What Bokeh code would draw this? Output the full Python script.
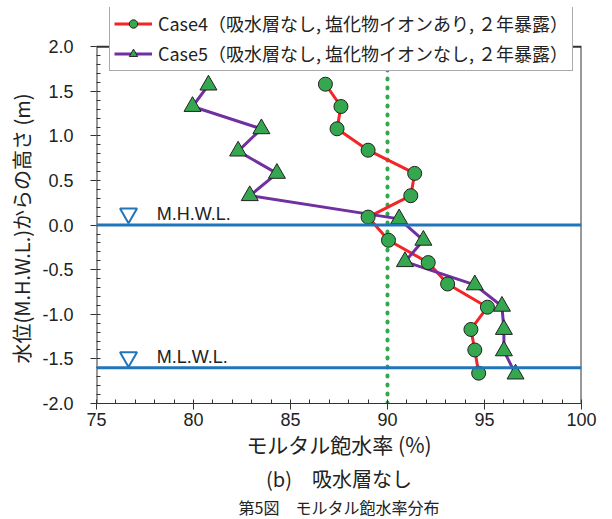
from bokeh.plotting import figure
from bokeh.models import (Span, Legend, LegendItem, FixedTicker, PrintfTickFormatter,
                          Title, Range1d, ColumnDataSource)
from bokeh.embed import file_html
from bokeh.resources import INLINE

# ---- data ----
case4_x = [86.8, 87.6, 87.4, 89.0, 91.4, 91.2, 89.0, 90.05, 92.1, 93.1, 95.15, 94.3, 94.5, 94.7]
case4_y = [1.58, 1.33, 1.08, 0.84, 0.58, 0.33, 0.09, -0.17, -0.42, -0.66, -0.92, -1.17, -1.40, -1.66]
case5_x = [80.77, 79.95, 83.5, 82.3, 84.3, 82.9, 90.6, 91.85, 90.9, 94.5, 95.9, 96.0, 96.0, 96.6]
case5_y = [1.57, 1.33, 1.08, 0.83, 0.58, 0.33, 0.07, -0.17, -0.41, -0.67, -0.91, -1.17, -1.41, -1.67]
case4_label = "Case4（吸水層なし, 塩化物イオンあり, ２年暴露）"
case5_label = "Case5（吸水層なし, 塩化物イオンなし, ２年暴露）"

level_names = ["M.H.W.L.", "M.L.W.L."]
level_values = [0.0, -1.6]
level_marker_x = [76.65, 76.65]
level_marker_y = [0.13, -1.48]
level_text_x = [78.1, 78.1]

threshold_x = 90.0

x_ticks = [75, 80, 85, 90, 95, 100]
x_minor = list(range(75, 101))
y_ticks = [-2.0, -1.5, -1.0, -0.5, 0.0, 0.5, 1.0, 1.5, 2.0]
y_minor = [round(-2.0 + 0.1 * i, 1) for i in range(41)]
y_view_top = 2.44   # extra headroom above the axis box, where the legend sits

x_label = "モルタル飽水率 (%)"
y_label = "水位(M.H.W.L.)からの高さ (m)"
sub_title = "(b)　吸水層なし"
fig_title = "第5図　モルタル飽水率分布"

JP = "Noto Sans CJK JP"
LAT = "Liberation Sans"
RED = "#f52525"
PURPLE = "#7030a0"
GREEN = "#35a84f"
BLUE = "#2175b9"
AXC = "#333333"

p = figure(frame_width=485, frame_height=396, output_backend="svg", toolbar_location=None,
           x_range=Range1d(x_ticks[0], x_ticks[-1]), y_range=Range1d(y_ticks[0], y_view_top),
           min_border_left=89, min_border_right=22, min_border_top=7, min_border_bottom=0)
p.grid.visible = False
p.outline_line_color = None
p.background_fill_color = "white"
p.border_fill_color = "white"

# axis box (left, top and right edges; the bottom is the x axis line)
x0, x1, y0, y1 = x_ticks[0], x_ticks[-1], y_ticks[0], y_ticks[-1]
p.line([x0, x0, x1, x1], [y0, y1, y1, y0], line_color=AXC, line_width=2)

# reference lines
p.line([threshold_x, threshold_x], [y0, y1], line_color=GREEN,
       line_width=4, line_dash="1 8", line_cap="round")
for lv in level_values:
    p.add_layout(Span(location=lv, dimension="width", line_color=BLUE, line_width=3))

# series
l4 = p.line(case4_x, case4_y, line_color=RED, line_width=3)
l5 = p.line(case5_x, case5_y, line_color=PURPLE, line_width=3)
m4 = p.scatter(case4_x, case4_y, marker="circle", size=14, fill_color=GREEN,
               line_color="#222222", line_width=1)
m5 = p.scatter(case5_x, case5_y, marker="triangle", size=17, fill_color=GREEN,
               line_color="#222222", line_width=1)

# level annotations
p.scatter(level_marker_x, level_marker_y, marker="inverted_triangle", size=17,
          fill_color=None, line_color=BLUE, line_width=2)
src = ColumnDataSource(dict(x=level_text_x, y=level_marker_y, t=level_names))
p.text(x="x", y="y", text="t", source=src, text_font={"value": LAT}, text_font_size="18px",
       text_color="#222222", text_baseline="middle", text_align="left")

# axes
p.xaxis.ticker = FixedTicker(ticks=x_ticks, minor_ticks=x_minor)
p.yaxis.ticker = FixedTicker(ticks=y_ticks, minor_ticks=y_minor)
p.yaxis.formatter = PrintfTickFormatter(format="%.1f")
for ax in (p.xaxis[0], p.yaxis[0]):
    ax.axis_line_color = AXC
    ax.major_tick_line_color = AXC
    ax.minor_tick_line_color = AXC
    ax.major_label_text_font = LAT
    ax.major_label_text_font_size = "18px"
    ax.major_label_text_color = "#222222"
    ax.axis_label_text_font = JP
    ax.axis_label_text_font_style = "normal"
    ax.axis_label_text_color = "#222222"
    ax.major_tick_in = 0
    ax.major_tick_out = 6
    ax.minor_tick_in = 4
    ax.minor_tick_out = 0
p.yaxis.axis_line_color = None

p.xaxis.axis_label = x_label
p.xaxis.axis_label_text_font_size = "21px"
p.xaxis.major_label_standoff = 3
p.xaxis.axis_label_standoff = 0
p.yaxis.major_label_standoff = 17

# y label as a left title so it sits against the axis box rather than the whole view
ylab = Title(text=y_label, align="left", offset=40, text_font=JP, text_font_size="20px",
             text_font_style="normal", text_color="#222222", standoff=8)
p.add_layout(ylab, "left")

# legend
legend = Legend(items=[LegendItem(label=case4_label, renderers=[l4, m4]),
                       LegendItem(label=case5_label, renderers=[l5, m5])],
                location=(13, 332), orientation="vertical",
                label_text_font=JP, label_text_font_size="18px", label_text_color="#222222",
                glyph_width=38, glyph_height=21, label_height=21, spacing=4, padding=4,
                label_standoff=6, border_line_color="#555555", border_line_width=1,
                background_fill_color="white", background_fill_alpha=1.0)
p.add_layout(legend, "center")

# bottom captions
t1 = Title(text=sub_title, align="center", text_font=JP, text_font_size="20px",
           text_font_style="normal", text_color="#222222", standoff=0)
t2 = Title(text=fig_title, align="center", text_font=JP, text_font_size="16px",
           text_font_style="normal", text_color="#222222", standoff=0)
p.add_layout(t1, "below")
p.add_layout(t2, "below")

open("out.html", "w").write(file_html(p, INLINE))
